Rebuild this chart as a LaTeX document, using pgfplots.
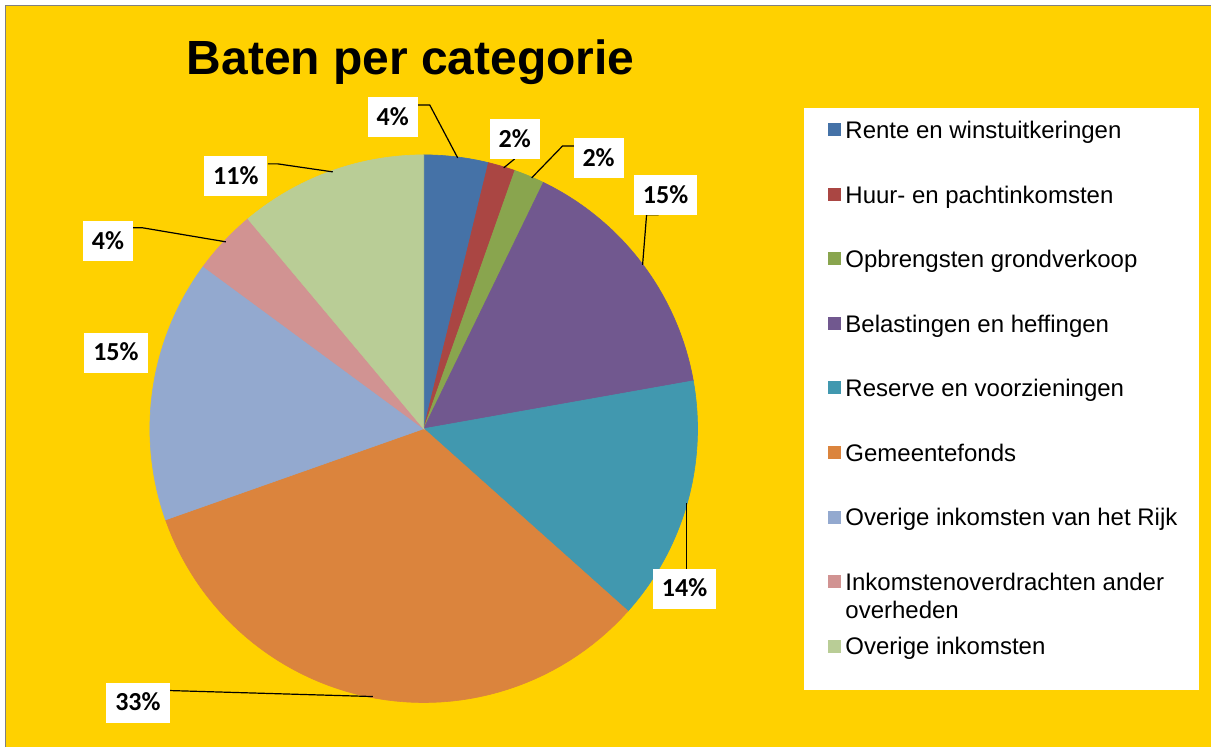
\documentclass[border=0pt]{standalone}
\usepackage{pgfplots}
\pgfplotsset{compat=1.18}
\usepackage{fontspec}
\setmainfont{Liberation Sans}
\newfontfamily\lblfont{Carlito}

\definecolor{bgyellow}{HTML}{FFD100}
\definecolor{cA}{HTML}{4572A7}
\definecolor{cB}{HTML}{AA4643}
\definecolor{cC}{HTML}{89A54E}
\definecolor{cD}{HTML}{71588F}
\definecolor{cE}{HTML}{4198AF}
\definecolor{cF}{HTML}{DB843D}
\definecolor{cG}{HTML}{93A9CF}
\definecolor{cH}{HTML}{D19392}
\definecolor{cI}{HTML}{B9CD96}

% share of each category (percent), clockwise from 12 o'clock
\pgfmathsetmacro\aA{0}
\pgfmathsetmacro\aB{\aA+3.6*3.8}
\pgfmathsetmacro\aC{\aB+3.6*1.6}
\pgfmathsetmacro\aD{\aC+3.6*1.8}
\pgfmathsetmacro\aE{\aD+3.6*15.0}
\pgfmathsetmacro\aF{\aE+3.6*14.4}
\pgfmathsetmacro\aG{\aF+3.6*33.0}
\pgfmathsetmacro\aH{\aG+3.6*15.5}
\pgfmathsetmacro\aI{\aH+3.6*3.8}
\pgfmathsetmacro\aJ{\aI+3.6*11.1}

% one pie slice: start angle, end angle, colour
\newcommand{\slice}[3]{%
  \addplot[fill=#3, draw=#3, line width=0.3pt, domain=#1:#2, samples=60, variable=\t]
    ({424+274*sin(\t)}, {429-274*cos(\t)}) -- (axis cs:424,429) -- cycle;
}

\begin{document}
\begin{tikzpicture}[
  lbl/.style={fill=white, font=\lblfont\bfseries\fontsize{13}{15}\selectfont,
    minimum height=20pt, inner xsep=4.5pt, inner ysep=0pt, text height=8.2pt, text depth=0pt},
  lead/.style={black, line width=0.6pt},
]
\begin{axis}[
  width=606pt, height=373.5pt, scale only axis,
  xmin=0, xmax=1212, ymin=0, ymax=747, y dir=reverse,
  hide axis, clip=false,
  legend image code/.code={\fill[#1] (0pt,1.5pt) rectangle (6pt,7.5pt);},
  legend style={at={(axis cs:828,117)}, anchor=north west, draw=none, fill=none,
    inner sep=0pt, row sep=18.2pt, column sep=0.5pt,
    font=\fontsize{12}{14}\selectfont,
    cells={anchor=base west, text height=8.6pt, text depth=2.5pt, inner sep=0pt}},
]
  % background
  \fill[white] (axis cs:0,0) rectangle (axis cs:1212,747);
  \fill[bgyellow] (axis cs:6,6) rectangle (axis cs:1212,747);
  \draw[gray, line width=0.8pt] (axis cs:5.5,747) -- (axis cs:5.5,5.5) -- (axis cs:1212,5.5);
  \fill[white] (axis cs:805,108) rectangle (axis cs:1200,690);

  \slice{\aA}{\aB}{cA} \addlegendentry{Rente en winstuitkeringen}
  \slice{\aB}{\aC}{cB} \addlegendentry{Huur- en pachtinkomsten}
  \slice{\aC}{\aD}{cC} \addlegendentry{Opbrengsten grondverkoop}
  \slice{\aD}{\aE}{cD} \addlegendentry{Belastingen en heffingen}
  \slice{\aE}{\aF}{cE} \addlegendentry{Reserve en voorzieningen}
  \slice{\aF}{\aG}{cF} \addlegendentry{Gemeentefonds}
  \slice{\aG}{\aH}{cG} \addlegendentry{Overige inkomsten van het Rijk}
  \slice{\aH}{\aI}{cH} \addlegendentry{\parbox[t]{170pt}{Inkomstenoverdrachten ander\\overheden}}
  \slice{\aI}{\aJ}{cI} \addlegendentry{Overige inkomsten}

  % leader lines
  \draw[lead] (axis cs:417,105) -- (axis cs:430,105) -- (axis cs:458,158);
  \draw[lead] (axis cs:515,159) -- (axis cs:504,168);
  \draw[lead] (axis cs:575,146) -- (axis cs:563,146) -- (axis cs:532,178);
  \draw[lead] (axis cs:659,215) -- (axis cs:647,215) -- (axis cs:643,265);
  \draw[lead] (axis cs:687,569) -- (axis cs:687,503);
  \draw[lead] (axis cs:170,691) -- (axis cs:373,697);
  \draw[lead] (axis cs:132,228) -- (axis cs:143,228) -- (axis cs:226,242);
  \draw[lead] (axis cs:268,164) -- (axis cs:278,164) -- (axis cs:333,172);

  % data labels
  \node[lbl] at (axis cs:393,117) {4\%};
  \node[lbl] at (axis cs:515,139) {2\%};
  \node[lbl] at (axis cs:599,158) {2\%};
  \node[lbl] at (axis cs:666,195) {15\%};
  \node[lbl] at (axis cs:685,589) {14\%};
  \node[lbl] at (axis cs:138,703) {33\%};
  \node[lbl] at (axis cs:116,353) {15\%};
  \node[lbl] at (axis cs:108,241) {4\%};
  \node[lbl] at (axis cs:236,176) {11\%};

  % title
  \node[anchor=base, font=\bfseries\fontsize{24}{28}\selectfont] at (axis cs:411,75) {Baten per categorie};
\end{axis}
\end{tikzpicture}
\end{document}
